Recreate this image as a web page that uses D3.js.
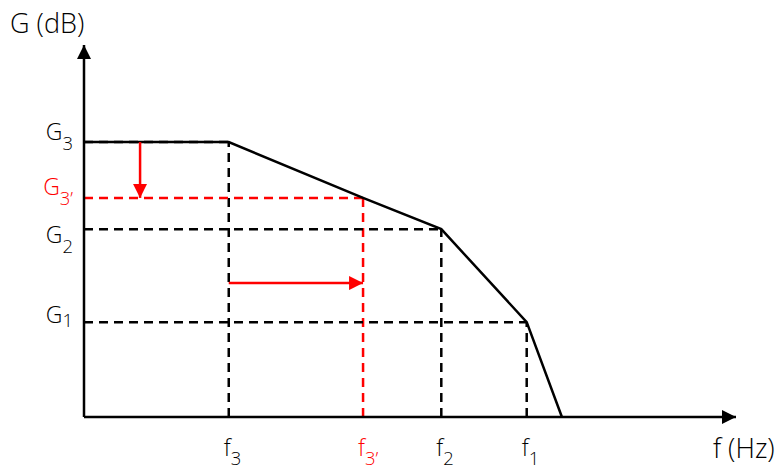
<!DOCTYPE html>
<html><head><meta charset="utf-8">
<script src="https://cdn.jsdelivr.net/npm/d3@7"></script>
<style>body{margin:0;background:#fff}svg{display:block}text{font-family:"Open Sans",sans-serif;font-weight:300}</style>
</head><body>
<svg id="c" width="784" height="470"></svg>
<script>
// Frequency break points (arbitrary units) and gain levels
const freqLabels = ["f3", "f3'", "f2", "f1"];
const freqValues = [2.22, 4.28, 5.48, 6.79];
const gainLabels = ["G3", "G3'", "G2", "G1"];
const gainValues = [7.39, 5.89, 5.05, 2.55];
const curveF = [0, 2.22, 4.28, 5.48, 6.79, 7.33];
const curveG = [7.39, 7.39, 5.89, 5.05, 2.55, 0];
const highlighted = ["f3'", "G3'"];

const svg = d3.select("#c");
const x = d3.scaleLinear().domain([0, 10]).range([84, 736]);
const y = d3.scaleLinear().domain([0, 10]).range([417, 45]);
const RED = "#ff0000";

// label layout (pixel offsets from tick position)
const gainLabelShift = {"G3": [-2, 10], "G3'": [-3, 10], "G2": [14, 10], "G1": [1, 4]};

const defs = svg.append("defs");
function marker(id, color, w, h) {
  defs.append("marker").attr("id", id).attr("viewBox", "0 0 10 10").attr("refX", 10).attr("refY", 5)
    .attr("markerWidth", w).attr("markerHeight", h).attr("markerUnits", "userSpaceOnUse").attr("orient", "auto")
    .append("path").attr("d", "M0,0L10,5L0,10Z").attr("fill", color);
}
marker("ak", "#000", 16, 14);
marker("ar", RED, 16, 14);

// dashed guides
freqLabels.forEach((l, i) => {
  const red = highlighted.includes(l);
  svg.append("line").attr("x1", x(freqValues[i])).attr("x2", x(freqValues[i]))
    .attr("y1", y(0)).attr("y2", y(gainValues[i]))
    .attr("stroke", red ? RED : "#000").attr("stroke-width", 2.5).attr("stroke-dasharray", "9,6");
  svg.append("line").attr("x1", x(0)).attr("x2", x(freqValues[i]))
    .attr("y1", y(gainValues[i])).attr("y2", y(gainValues[i]))
    .attr("stroke", red ? RED : "#000").attr("stroke-width", 2.5).attr("stroke-dasharray", "9,6");
});

// axes
const xAxis = d3.axisBottom(x).tickValues(freqValues).tickSize(0).tickFormat("");
svg.append("g").attr("transform", `translate(0,${y(0)})`).call(xAxis).select(".domain").remove();
const yAxis = d3.axisLeft(y).tickValues(gainValues).tickSize(0).tickFormat("");
svg.append("g").attr("transform", `translate(${x(0)},0)`).call(yAxis).select(".domain").remove();
svg.append("line").attr("x1", x(0)).attr("x2", x(10)).attr("y1", y(0)).attr("y2", y(0))
  .attr("stroke", "#000").attr("stroke-width", 2.5).attr("marker-end", "url(#ak)");
svg.append("line").attr("x1", x(0)).attr("x2", x(0)).attr("y1", y(0)).attr("y2", y(10))
  .attr("stroke", "#000").attr("stroke-width", 2.5).attr("marker-end", "url(#ak)");

// curve
svg.append("path").datum(curveF.map((f, i) => [f, curveG[i]]))
  .attr("d", d3.line().x(d => x(d[0])).y(d => y(d[1])))
  .attr("fill", "none").attr("stroke", "#000").attr("stroke-width", 2.5);

// red arrows
svg.append("line").attr("x1", x(0.86)).attr("x2", x(0.86)).attr("y1", y(gainValues[0])).attr("y2", y(gainValues[1]))
  .attr("stroke", RED).attr("stroke-width", 2.5).attr("marker-end", "url(#ar)");
svg.append("line").attr("x1", x(freqValues[0])).attr("x2", x(freqValues[1])).attr("y1", y(3.6)).attr("y2", y(3.6))
  .attr("stroke", RED).attr("stroke-width", 2.5).attr("marker-end", "url(#ar)");

// labels
function sub(sel, main, s, dy) {
  sel.append("tspan").text(main);
  sel.append("tspan").attr("dy", dy).attr("font-size", "0.8em").text(s);
}
gainLabels.forEach((l, i) => {
  const red = highlighted.includes(l);
  const sh = gainLabelShift[l];
  const t = svg.append("text").attr("x", 73).attr("y", y(gainValues[i]) + sh[0]).attr("text-anchor", "end")
    .attr("font-size", 23).attr("fill", red ? RED : "#000");
  sub(t, "G", l.slice(1).replace("'", "\u2019"), sh[1]);
});
freqLabels.forEach((l, i) => {
  const red = highlighted.includes(l);
  const t = svg.append("text").attr("x", x(freqValues[i]) - 5).attr("y", 456)
    .attr("font-size", 23).attr("fill", red ? RED : "#000");
  sub(t, "f", l.slice(1).replace("'", "\u2019"), 9);
});
svg.append("text").attr("x", 10).attr("y", 33).attr("font-size", 27).text("G (dB)");
svg.append("text").attr("x", 713).attr("y", 458).attr("font-size", 27).text("f (Hz)");
</script>
</body></html>
